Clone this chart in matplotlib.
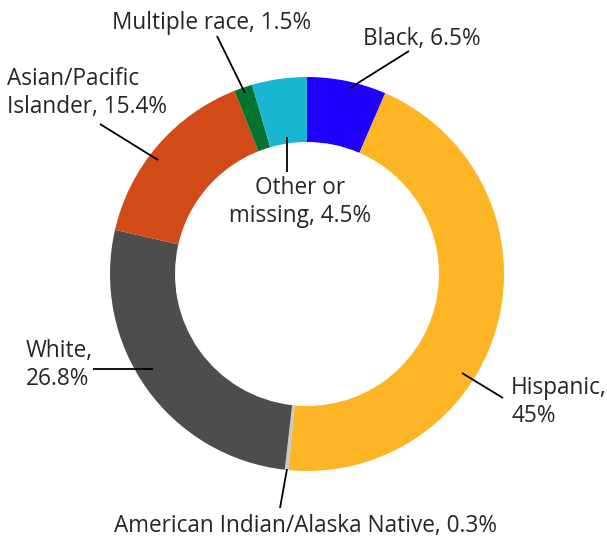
#!/usr/bin/env python3
import matplotlib

matplotlib.use("Agg")
import matplotlib.pyplot as plt

W, H = 607, 538

# slices, clockwise from 12 o'clock
groups = ["Black", "Hispanic", "American Indian/Alaska Native", "White",
          "Asian/Pacific Islander", "Multiple race", "Other or missing"]
shares = [6.5, 45, 0.3, 26.8, 15.4, 1.5, 4.5]
colors = ["#2000FF", "#FDB526", "#C8C8C8", "#4D4D4D", "#D24A17", "#06722F", "#18B6D1"]

labels = ["Black, 6.5%", "Hispanic,\n45%", "American Indian/Alaska Native, 0.3%",
          "White,\n26.8%", "Asian/Pacific\nIslander, 15.4%", "Multiple race, 1.5%",
          "Other or\nmissing, 4.5%"]


def px(x, y):
    # image pixel coords -> data coords (y up)
    return (x, H - y)


fig = plt.figure(figsize=(W / 100, H / 100), dpi=100)
ax = fig.add_axes([0, 0, 1, 1])

ax.pie(shares, colors=colors, startangle=90, counterclock=False,
       radius=197, center=px(307, 274),
       wedgeprops=dict(width=65, linewidth=0), frame=True)
ax.set_xlim(0, W)
ax.set_ylim(0, H)
ax.set_aspect("equal")
ax.axis("off")

font = dict(family=["Open Sans", "DejaVu Sans"], fontsize=16.3, color="#262626",
            linespacing=1.22)

# label text anchor = baseline of the last line
text_pos = {
    "Black": ((363, 45), "left"),
    "Hispanic": ((511, 422), "left"),
    "American Indian/Alaska Native": ((305, 532), "center"),
    "White": ((26, 385), "left"),
    "Asian/Pacific Islander": ((7, 113), "left"),
    "Multiple race": ((112, 29), "left"),
    "Other or missing": ((300, 222), "center"),
}
leaders = {
    "Black": ((409, 51), (350, 88)),
    "Hispanic": ((503, 398), (462, 373)),
    "American Indian/Alaska Native": ((280, 508), (287, 469)),
    "White": ((93, 369), (153, 369)),
    "Asian/Pacific Islander": ((100, 124), (158, 160)),
    "Multiple race": ((217, 36), (245, 93)),
    "Other or missing": ((287, 172), (287, 137)),
}

for g, lab in zip(groups, labels):
    (x, y), ha = text_pos[g]
    ax.text(*px(x, y), lab, ha=ha, va="baseline", **font)
    (x0, y0), (x1, y1) = leaders[g]
    ax.plot([x0, x1], [H - y0, H - y1], color="black", lw=1.3,
            solid_capstyle="butt")

fig.savefig("out.png", dpi=100, facecolor="white")
